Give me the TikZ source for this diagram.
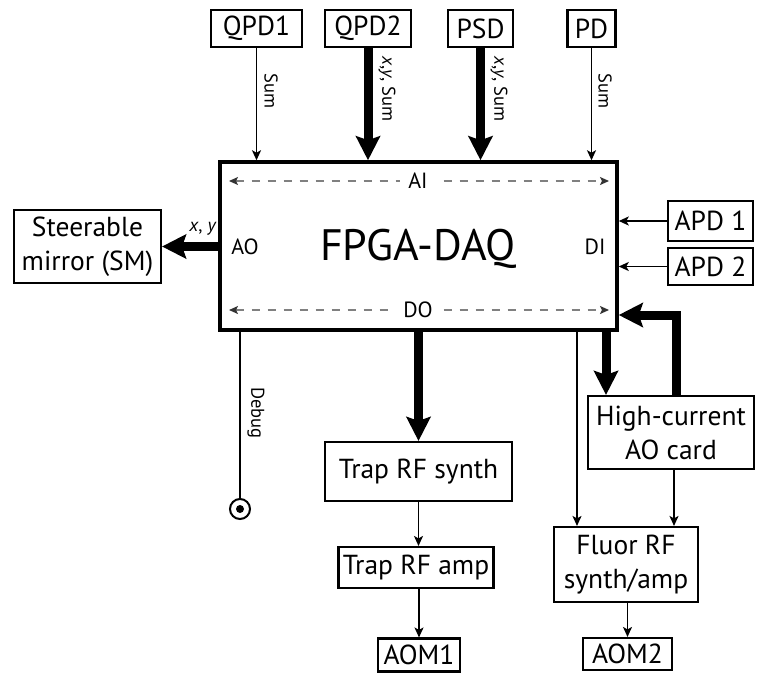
\documentclass[tikz,border=0pt]{standalone}
\usepackage{fontspec}
\setmainfont{PT Sans}
\usetikzlibrary{arrows.meta,calc}
\begin{document}
\begin{tikzpicture}[x=1pt,y=-1pt,
 box/.style={draw, line width=2.1pt, inner sep=0pt, align=center, font=\fontsize{27.5}{34}\selectfont},
 lab/.style={font=\fontsize{18.5}{20}\selectfont, inner sep=0pt},
 io/.style={font=\fontsize{22}{26}\selectfont, inner sep=1pt},
 thinarrow/.style={line width=1.8pt, -{Stealth[length=10pt,width=9pt,inset=2.5pt]}},
 thickarrow/.style={line width=9pt, line join=miter, -{Stealth[length=24pt,width=24pt,inset=4pt]}},
 dasharrow/.style={gray, line width=1.5pt, dash pattern=on 8pt off 8pt,
   {Stealth[length=9pt,width=8pt,inset=2pt,color=black!80]}-{Stealth[length=9pt,width=8pt,inset=2pt,color=black!80]}}
]
\useasboundingbox (0,0) rectangle (757,680);

% top sensors
\node[box, minimum width=91pt, minimum height=37pt] (qpd1) at (256.5,28.5) {QPD1};
\node[box, minimum width=86pt, minimum height=37pt] (qpd2) at (368,28.5) {QPD2};
\node[box, minimum width=65pt, minimum height=37pt] (psd) at (480.5,28.5) {PSD};
\node[box, minimum width=48pt, minimum height=37pt] (pd) at (591.5,28.5) {PD};

% main box
\node[draw, line width=3.5pt, minimum width=397pt, minimum height=168pt, inner sep=0pt] (fpga) at (418.5,246) {};
\node[font=\fontsize{44}{48}\selectfont, anchor=base, inner sep=0pt] (title) at (418,260) {FPGA-DAQ};
\node[io] (ao) at (245,247) {AO};
\node[io] (di) at (595,247) {DI};
\coordinate (aiL) at (229,181);
\coordinate (aiR) at (609,181);
\coordinate (doL) at (229,310);
\coordinate (doR) at (609,310);
\draw[dasharrow] (aiL) -- (aiR);
\draw[dasharrow] (doL) -- (doR);
\node[io, fill=white, inner xsep=8pt] (ai) at (418,181) {AI};
\node[io, fill=white, inner xsep=8pt] (do) at (418,310) {DO};

% left
\node[box, minimum width=147pt, minimum height=73pt] (sm) at (87.5,246.5) {Steerable\\mirror (SM)};
% right inputs
\node[box, minimum width=85pt, minimum height=40pt] (apd1) at (710.5,221) {APD 1};
\node[box, minimum width=85pt, minimum height=37pt] (apd2) at (710.5,266.5) {APD 2};

% bottom boxes
\node[box, minimum width=187pt, minimum height=59pt] (trs) at (418.5,471.5) {Trap RF synth};
\node[box, minimum width=155pt, minimum height=41pt] (tra) at (416,567.5) {Trap RF amp};
\node[box, minimum width=82pt, minimum height=33pt] (aom1) at (419,655) {AOM1};
\node[box, minimum width=166pt, minimum height=73pt] (hc) at (671,432.5) {High-current\\AO card};
\node[box, minimum width=144pt, minimum height=75pt] (fluor) at (626,564.5) {Fluor RF\\synth/amp};
\node[box, minimum width=89pt, minimum height=32pt] (aom2) at (627.5,654) {AOM2};

% debug connector
\node[circle, draw, line width=2pt, minimum size=20pt, inner sep=0pt] (dbg) at (240,509) {};
\fill (dbg.center) circle (4pt);

% top arrows
\draw[thinarrow] (qpd1.south) -- (qpd1.south |- fpga.north);
\draw[thickarrow] (qpd2.south) -- (qpd2.south |- fpga.north);
\draw[thickarrow] (psd.south) -- (psd.south |- fpga.north);
\draw[thinarrow] (pd.south) -- (pd.south |- fpga.north);
\node[lab, rotate=-90] (l1) at (271,91) {Sum};
\node[lab, rotate=-90] (l2) at (387,89) {\textit{x},\textit{y}, Sum};
\node[lab, rotate=-90] (l3) at (499,89) {\textit{x},\textit{y}, Sum};
\node[lab, rotate=-90] (l4) at (605,91) {Sum};

% left arrow
\draw[thickarrow] (fpga.west |- sm.east) -- (sm.east);
\node[lab] (xy) at (203,229) {\textit{x}, \textit{y}};

% right arrows
\draw[thinarrow] (apd1.west) -- (apd1.west -| fpga.east);
\draw[thinarrow] (apd2.west) -- (apd2.west -| fpga.east);

% bottom arrows
\draw[line width=1.8pt] (240,0 |- fpga.south) -- (dbg.north);
\node[lab, rotate=-90] (ldbg) at (256,413) {Debug};
\draw[thickarrow] (trs.north |- fpga.south) -- (trs.north);
\draw[thinarrow] (trs.south) -- (trs.south |- tra.north);
\draw[thinarrow] (tra.south -| aom1.north) -- (aom1.north);
\draw[thickarrow] (606,0 |- fpga.south) -- (606,0 |- hc.north);
\draw[thickarrow] (676,0 |- hc.north) |- (fpga.east |- 0,315);
\draw[thinarrow] (577,0 |- fpga.south) -- (577,0 |- fluor.north);
\draw[thinarrow] (674,0 |- hc.south) -- (674,0 |- fluor.north);
\draw[thinarrow] (fluor.south -| aom2.north) -- (aom2.north);
\end{tikzpicture}
\end{document}
